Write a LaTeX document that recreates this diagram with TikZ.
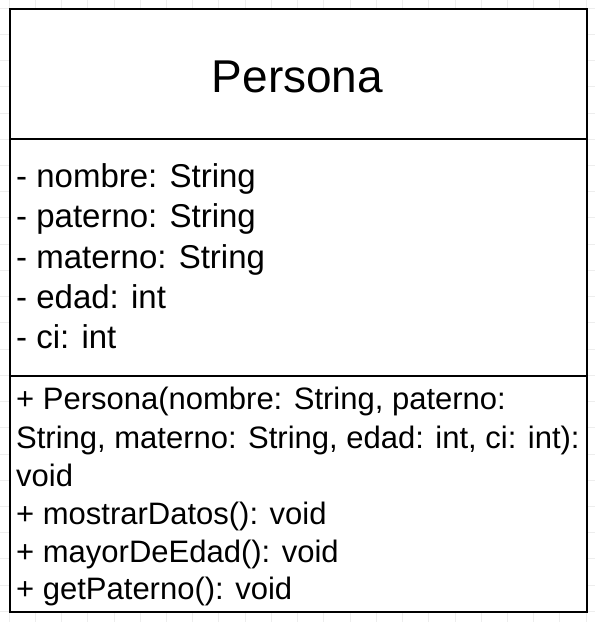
\documentclass[tikz,border=0pt]{standalone}
\usepackage{fontspec}
\setmainfont{Liberation Sans}
\begin{document}
\begin{tikzpicture}[x=1pt,y=-1pt,
  gridline/.style={draw=black!7,line width=0.8pt},
  classbox/.style={draw=black,fill=white,line width=2pt,inner sep=0pt,anchor=north west},
  divider/.style={draw=black,line width=2pt},
  titletxt/.style={inner sep=0pt,anchor=base,font=\fontsize{46}{46}\selectfont},
  attrtxt/.style={inner sep=0pt,anchor=base west,font=\fontsize{33}{33}\selectfont},
  methtxt/.style={inner sep=0pt,anchor=base west,font=\fontsize{31}{31}\selectfont}]
\useasboundingbox (0,0) rectangle (595,622);
\fill[white] (0,0) rectangle (595,622);
\begin{scope}
\clip (0,0) rectangle (595,622);
\foreach \i in {0,...,22} \draw[gridline] ({9+\i*26.23},0) -- ({9+\i*26.23},622);
\foreach \j in {0,...,23} \draw[gridline] (0,{8+\j*26.23}) -- (595,{8+\j*26.23});
\end{scope}
\node[classbox,minimum width=577pt,minimum height=603pt] (box) at (9,8) {};
\coordinate (d1l) at (9,139); \coordinate (d1r) at (586,139);
\coordinate (d2l) at (9,376); \coordinate (d2r) at (586,376);
\draw[divider] (d1l) -- (d1r);
\draw[divider] (d2l) -- (d2r);
\node[titletxt] (title) at (297.5,92) {Persona};
\node[attrtxt] (a1) at (16,187) {- nombre: String};
\node[attrtxt] (a2) at (16,227) {- paterno: String};
\node[attrtxt] (a3) at (16,268) {- materno: String};
\node[attrtxt] (a4) at (16,308) {- edad: int};
\node[attrtxt] (a5) at (16,348) {- ci: int};
\node[methtxt] (m1) at (16,409) {+ Persona(nombre: String, paterno:};
\node[methtxt] (m2) at (16,448) {String, materno: String, edad: int, ci: int):};
\node[methtxt] (m3) at (16,486) {void};
\node[methtxt] (m4) at (16,524) {+ mostrarDatos(): void};
\node[methtxt] (m5) at (16,562) {+ mayorDeEdad(): void};
\node[methtxt] (m6) at (16,599) {+ getPaterno(): void};
\end{tikzpicture}
\end{document}
